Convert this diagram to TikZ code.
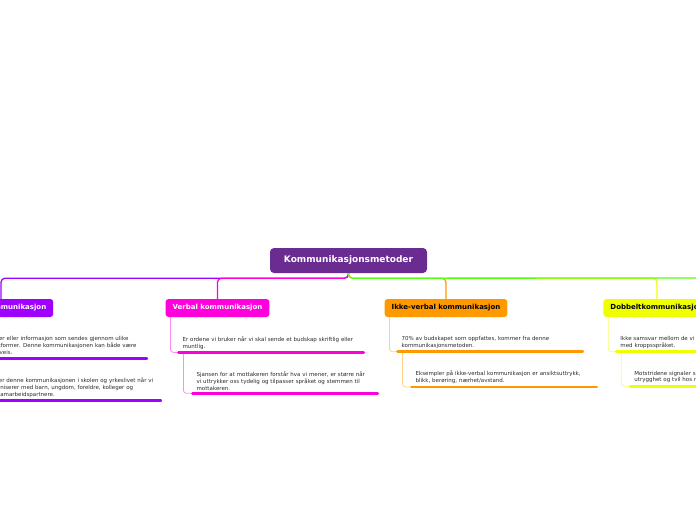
\documentclass[tikz,border=0pt]{standalone}
\usepackage{fontspec}
\setmainfont{DejaVu Sans}
\usetikzlibrary{positioning}
\definecolor{rootpurple}{HTML}{6A2C91}
\definecolor{violetbr}{HTML}{A000FF}
\definecolor{magentabr}{HTML}{FF00DC}
\definecolor{orangebr}{HTML}{FF9900}
\definecolor{yellowbr}{HTML}{F0FF00}
\definecolor{greenbr}{HTML}{55FF11}
\definecolor{notetext}{HTML}{2A2A2A}

\begin{document}
\begin{tikzpicture}[x=1pt, y=1pt,
    root/.style={fill=rootpurple, rounded corners=4pt, text=white, font=\fontsize{9}{11}\selectfont\bfseries, minimum width=157pt, minimum height=25pt},
    topic/.style={fill=#1, rounded corners=3pt, font=\fontsize{7}{8}\selectfont\bfseries, minimum height=18pt, inner xsep=7pt},
    note/.style={text width=177pt, inner xsep=4pt, inner ysep=3pt, align=left, font=\fontsize{5.5}{6.8}\selectfont, text=notetext},
    branch/.style={line width=1.3pt, rounded corners=4pt},
    stem/.style={line width=0.8pt, rounded corners=3pt},
    underline/.style={line width=2.5pt, line cap=round}
  ]
    \useasboundingbox (0,0) rectangle (696,-520);
    \clip (0,0) rectangle (696,-520);

    \node[root] (root) at (348.5,-260.5) {Kommunikasjonsmetoder};
    \coordinate (offright) at (700,-278);

    \node[topic=violetbr, text=white] (digital) at (1,-308) {Digital kommunikasjon};
    \node[topic=magentabr, text=white] (verbal) at (217.5,-308) {Verbal kommunikasjon};
    \node[topic=orangebr, text=black] (ikke) at (446,-308) {Ikke-verbal kommunikasjon};
    \node[topic=yellowbr, text=black] (dobbel) at (657,-308) {Dobbeltkommunikasjon};

    % notes under each topic
    \node[note, below right=16pt and 13pt of digital.south west] (dig1) {Alle beskjeder eller informasjon som sendes gjennom ulike\\digitale plattformer. Denne kommunikasjonen kan både være\\enveis og toveis.};
    \node[note, below right=16pt and 14pt of dig1.south west] (dig2) {Vi bruker denne kommunikasjonen i skolen og yrkeslivet når vi\\kommuniserer med barn, ungdom, foreldre, kolleger og\\andre samarbeidspartnere.};

    \node[note, below right=16pt and 13pt of verbal.south west] (verb1) {Er ordene vi bruker når vi skal sende et budskap skriftlig eller\\muntlig.};
    \node[note, below right=16pt and 14pt of verb1.south west] (verb2) {Sjansen for at mottakeren forstår hva vi mener, er større når\\vi uttrykker oss tydelig og tilpasser språket og stemmen til\\mottakeren.};

    \node[note, below right=16pt and 13pt of ikke.south west] (ikke1) {70\% av budskapet som oppfattes, kommer fra denne\\kommunikasjonsmetoden.};
    \node[note, below right=16pt and 14pt of ikke1.south west] (ikke2) {Eksempler på ikke-verbal kommunikasjon er ansiktsuttrykk,\\blikk, berøring, nærhet/avstand.};

    \node[note, below right=16pt and 13pt of dobbel.south west] (dob1) {Ikke samsvar mellom de vi sier og det vi uttrykker\\med kroppsspråket.};
    \node[note, below right=16pt and 14pt of dob1.south west] (dob2) {Motstridene signaler skaper\\utrygghet og tvil hos mottakeren.};

    % main branches
    \draw[branch, violetbr] (root.south) -- ++(0,-5) -| (digital.north);
    \draw[branch, magentabr] (root.south) -- ++(0,-5) -| (verbal.north);
    \draw[branch, orangebr] (root.south) -- ++(0,-5) -| (ikke.north);
    \draw[branch, yellowbr] (root.south) -- ++(0,-5) -| (dobbel.north);
    \draw[branch, greenbr] (root.south) -- ++(0,-5) -- (offright);

    % stems to the notes
    \draw[stem, violetbr!45] ([xshift=5pt]digital.south west) |- (dig1.south west);
    \draw[stem, violetbr!45] ([xshift=5pt]dig1.south west) |- (dig2.south west);
    \draw[stem, magentabr!45] ([xshift=5pt]verbal.south west) |- (verb1.south west);
    \draw[stem, magentabr!45] ([xshift=5pt]verb1.south west) |- (verb2.south west);
    \draw[stem, orangebr!45] ([xshift=5pt]ikke.south west) |- (ikke1.south west);
    \draw[stem, orangebr!45] ([xshift=5pt]ikke1.south west) |- (ikke2.south west);
    \draw[stem, yellowbr!60] ([xshift=5pt]dobbel.south west) |- (dob1.south west);
    \draw[stem, yellowbr!60] ([xshift=5pt]dob1.south west) |- (dob2.south west);

    % underlines
    \foreach \n/\c in {dig1/violetbr, dig2/violetbr, verb1/magentabr, verb2/magentabr,
                       ikke1/orangebr, ikke2/orangebr, dob1/yellowbr, dob2/yellowbr}
      \draw[underline, \c] (\n.south west) -- (\n.south east);
\end{tikzpicture}
\end{document}
